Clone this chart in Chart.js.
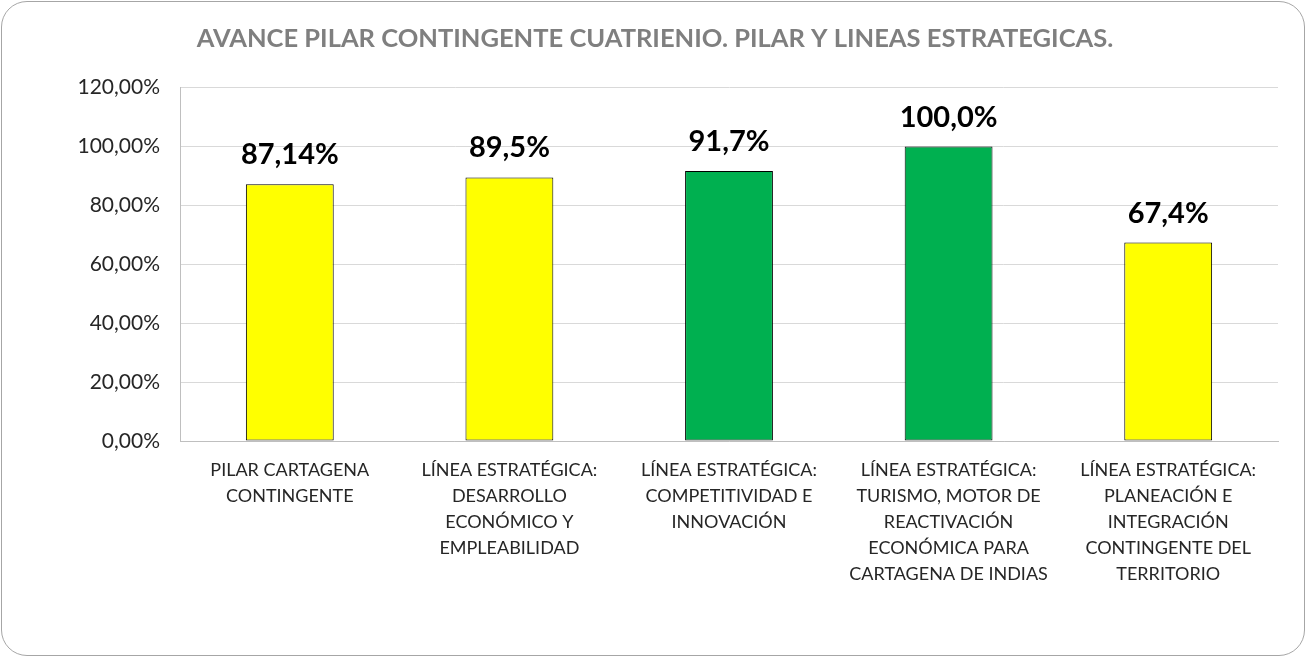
<!DOCTYPE html>
<html>
<head>
<meta charset="utf-8">
<script src="https://cdn.jsdelivr.net/npm/chart.js@4/dist/chart.umd.min.js"></script>
<style>
  body { margin: 0; background: #fff; }
  #wrap { position: relative; width: 1306px; height: 657px; }
  #frame { position: absolute; left: 1px; top: 1px; right: 1px; bottom: 1px;
           border: 1.5px solid #a6a6a6; border-radius: 26px; pointer-events: none; }
  canvas { position: absolute; left: 0; top: 0; }
</style>
</head>
<body>
<div id="wrap">
  <canvas id="chart" width="1306" height="657"></canvas>
  <div id="frame"></div>
</div>
<script>
var categories = [
  ["PILAR CARTAGENA", "CONTINGENTE"],
  ["LÍNEA ESTRATÉGICA:", "DESARROLLO", "ECONÓMICO Y", "EMPLEABILIDAD"],
  ["LÍNEA ESTRATÉGICA:", "COMPETITIVIDAD E", "INNOVACIÓN"],
  ["LÍNEA ESTRATÉGICA:", "TURISMO, MOTOR DE", "REACTIVACIÓN", "ECONÓMICA PARA", "CARTAGENA DE INDIAS"],
  ["LÍNEA ESTRATÉGICA:", "PLANEACIÓN E", "INTEGRACIÓN", "CONTINGENTE DEL", "TERRITORIO"]
]
var avance = [87.14, 89.5, 91.7, 100.0, 67.4]
var valueLabels = ["87,14%", "89,5%", "91,7%", "100,0%", "67,4%"]
var barColors = ["#FFFF00", "#FFFF00", "#00B050", "#00B050", "#FFFF00"]

var FONT = "Lato, 'Liberation Sans', sans-serif"

// etiquetas de valor encima de cada barra
var valueLabelPlugin = {
  id: "valueLabels",
  afterDatasetsDraw: function(chart) {
    var ctx = chart.ctx
    var meta = chart.getDatasetMeta(0)
    ctx.save()
    ctx.font = "bold 29px " + FONT
    ctx.fillStyle = "#000"
    ctx.textAlign = "center"
    ctx.textBaseline = "alphabetic"
    meta.data.forEach(function(bar, i) {
      ctx.fillText(valueLabels[i], bar.x, bar.y - 20)
    })
    ctx.restore()
  }
}

new Chart(document.getElementById("chart"), {
  type: "bar",
  data: {
    labels: categories,
    datasets: [{
      data: avance,
      backgroundColor: barColors,
      borderColor: "#000",
      borderWidth: 1,
      borderSkipped: false,
      categoryPercentage: 0.8,
      barPercentage: 0.5
    }]
  },
  options: {
    responsive: false,
    animation: false,
    layout: { padding: { left: 32, right: 28, top: 0, bottom: 0 } },
    plugins: {
      legend: { display: false },
      tooltip: { enabled: false },
      title: {
        display: true,
        text: "AVANCE PILAR CONTINGENTE CUATRIENIO. PILAR Y LINEAS ESTRATEGICAS.",
        color: "#7f7f7f",
        font: { family: FONT, size: 25.5, weight: "bold" },
        padding: { top: 23, bottom: 34 }
      }
    },
    scales: {
      y: {
        min: 0,
        max: 120,
        ticks: {
          stepSize: 20,
          padding: 20,
          color: "#262626",
          font: { family: FONT, size: 21 },
          callback: function(v) { return v.toFixed(2).replace(".", ",") + "%" }
        },
        grid: { color: "#d9d9d9", drawTicks: false },
        border: { color: "#bfbfbf" },
        afterFit: function(scale) { scale.width = 148 }
      },
      x: {
        ticks: {
          padding: 16,
          color: "#262626",
          maxRotation: 0,
          autoSkip: false,
          font: { family: FONT, size: 18, lineHeight: 1.45 }
        },
        grid: { display: false, drawTicks: false },
        border: { color: "#bfbfbf" },
        afterFit: function(scale) { scale.height = 216 }
      }
    }
  },
  plugins: [valueLabelPlugin]
})
</script>
</body>
</html>
